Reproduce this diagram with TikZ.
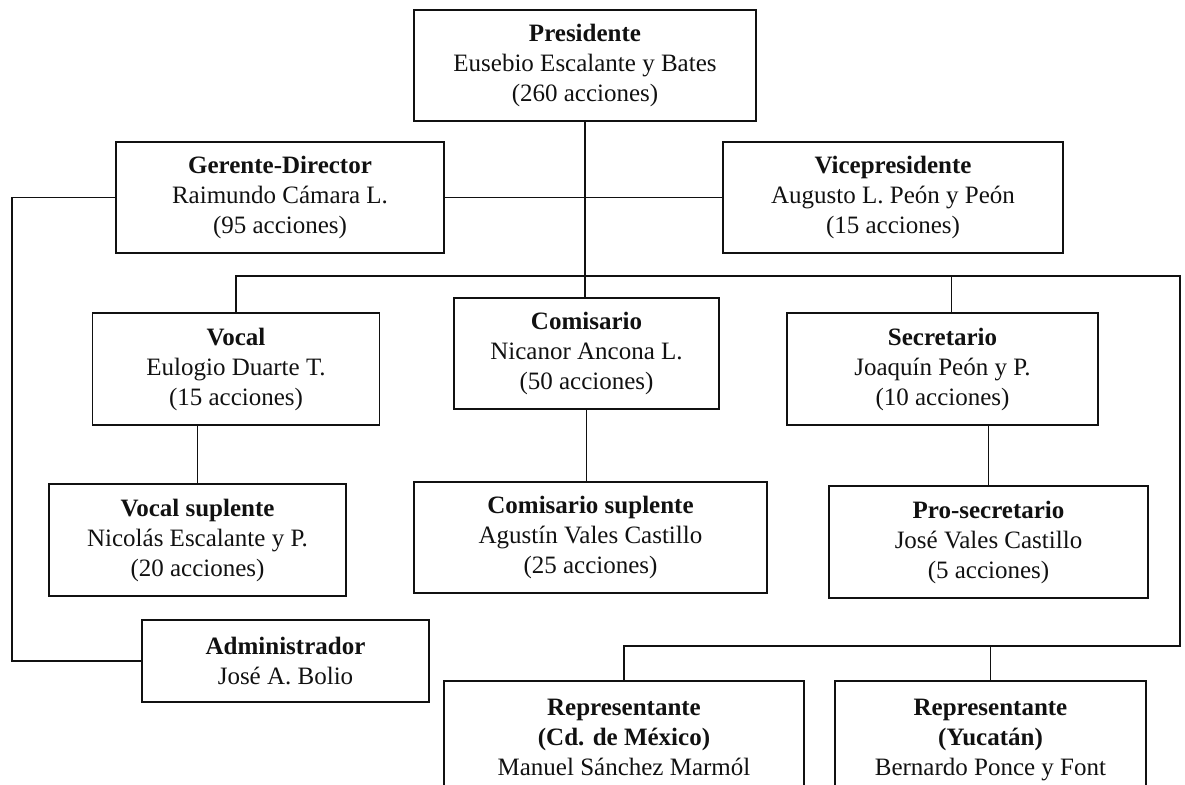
\documentclass[tikz,border=0pt]{standalone}
\usepackage{fontspec}
\setmainfont{Liberation Serif}
\usepackage{xcolor}
\definecolor{ink}{HTML}{111111}
\newcommand{\txt}{\fontsize{12.5}{15}\selectfont}
\tikzset{
  cargo/.style={draw=ink,line width=0.8pt,align=center,inner sep=0pt,text=ink,font=\txt},
  linea/.style={draw=ink,line width=0.8pt}
}

\begin{document}
\begin{tikzpicture}[x=0.5pt,y=0.5pt]
\useasboundingbox (0,0) rectangle (1185,784);
\clip (0,0) rectangle (1185,784);
% consejo
\node[cargo,minimum width=171pt,minimum height=55.5pt] (pres) at (585,718.5) {\textbf{Presidente}\\Eusebio Escalante y Bates\\(260 acciones)};
\node[cargo,minimum width=164pt,minimum height=55.5pt] (ger) at (280,586.5) {\textbf{Gerente-Director}\\Raimundo Cámara L.\\(95 acciones)};
\node[cargo,minimum width=170pt,minimum height=55.5pt] (vice) at (893,586.5) {\textbf{Vicepresidente}\\Augusto L. Peón y Peón\\(15 acciones)};
\node[cargo,minimum width=143.5pt,minimum height=56pt] (vocal) at (236,415) {\textbf{Vocal}\\Eulogio Duarte T.\\(15 acciones)};
\node[cargo,minimum width=132.5pt,minimum height=55.5pt] (comis) at (586.5,430.5) {\textbf{Comisario}\\Nicanor Ancona L.\\(50 acciones)};
\node[cargo,minimum width=155.5pt,minimum height=56pt] (secr) at (942.5,415) {\textbf{Secretario}\\Joaquín Peón y P.\\(10 acciones)};
% suplentes
\node[cargo,minimum width=148.5pt,minimum height=56pt] (vsup) at (197.5,244) {\textbf{Vocal suplente}\\Nicolás Escalante y P.\\(20 acciones)};
\node[cargo,minimum width=176.5pt,minimum height=55.5pt] (csup) at (590.5,246.5) {\textbf{Comisario suplente}\\Agustín Vales Castillo\\(25 acciones)};
\node[cargo,minimum width=159.5pt,minimum height=56pt] (pros) at (988.5,242) {\textbf{Pro-secretario}\\José Vales Castillo\\(5 acciones)};
\node[cargo,minimum width=143.5pt,minimum height=41pt] (admin) at (285.5,123) {\textbf{Administrador}\\José A. Bolio};
% representantes
\node[cargo,anchor=north,minimum width=180pt,minimum height=90pt] (repmx) at (624,104) {};
\node[cargo,draw=none,anchor=north] (repmxtxt) at ([yshift=-9pt]repmx.north) {\textbf{Representante}\\\textbf{(Cd. de México)}\\Manuel Sánchez Marmól};
\node[cargo,anchor=north,minimum width=155.5pt,minimum height=90pt] (repyuc) at (990.5,104) {};
\node[cargo,draw=none,anchor=north] (repyuctxt) at ([yshift=-9pt]repyuc.north) {\textbf{Representante}\\\textbf{(Yucatán)}\\Bernardo Ponce y Font};
% lineas
\coordinate (lft) at (12,0);
\coordinate (rowR) at (1180,508);
\coordinate (repR) at (1180,138);
\draw[linea] (pres.south) -- (pres.south |- comis.north);
\draw[linea] (ger.east) -- (vice.west);
\draw[linea] (ger.west) -- (ger.west -| lft) -- (admin.west -| lft) -- (admin.west);
\draw[linea] (vocal.north) |- (rowR) -- (repR) -| (repmx.north);
\draw[linea] ([xshift=4.5pt]secr.north) -- ([xshift=4.5pt]secr.north |- rowR);
\draw[linea] (repyuc.north) -- (repyuc.north |- repR);
\draw[linea] (vsup.north) -- (vsup.north |- vocal.south);
\draw[linea] (comis.south) -- (comis.south |- csup.north);
\draw[linea] (pros.north) -- (pros.north |- secr.south);
\end{tikzpicture}
\end{document}
